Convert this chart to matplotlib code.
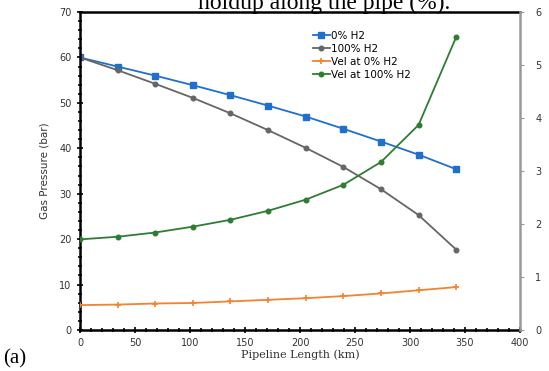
import numpy as np
import matplotlib.pyplot as plt
from matplotlib.ticker import MultipleLocator

# pipeline positions (km)
length_km = [0, 34.2, 68.4, 102.6, 136.8, 171, 205.2, 239.4, 273.6, 307.8, 342]

# gas pressure (bar)
p_0h2 = [60, 58, 56, 53.9, 51.7, 49.4, 47, 44.3, 41.5, 38.6, 35.4]
p_100h2 = [60, 57.2, 54.2, 51.1, 47.7, 44, 40.1, 35.9, 31, 25.3, 17.7]

# velocity (right axis)
v_0h2 = [0.47, 0.48, 0.50, 0.51, 0.54, 0.57, 0.60, 0.64, 0.69, 0.75, 0.81]
v_100h2 = [1.71, 1.76, 1.84, 1.95, 2.08, 2.25, 2.46, 2.74, 3.17, 3.87, 5.53]

fig = plt.figure(figsize=(5.49, 3.71), dpi=100)
ax = fig.add_axes([0.1457, 0.1105, 0.8015, 0.857])
ax2 = ax.twinx()

l1, = ax.plot(length_km, p_0h2, color='#1f6fcf', marker='s', markersize=3.8, lw=1.3, label='0% H2')
l2, = ax.plot(length_km, p_100h2, color='#666666', marker='o', markersize=3.3, lw=1.3, label='100% H2')
l3, = ax2.plot(length_km, v_0h2, color='#f58231', marker='+', markersize=4, mew=1.2, lw=1.3, label='Vel at 0% H2')
l4, = ax2.plot(length_km, v_100h2, color='#2e7d32', marker='o', markersize=3.3, lw=1.3, label='Vel at 100% H2')

ax.set_xlim(0, 400)
ax.set_ylim(0, 70)
ax2.set_ylim(0, 6)

ax.xaxis.set_major_locator(MultipleLocator(50))
ax.xaxis.set_minor_locator(MultipleLocator(10))
ax.yaxis.set_major_locator(MultipleLocator(10))
ax.yaxis.set_minor_locator(MultipleLocator(2))
ax2.yaxis.set_major_locator(MultipleLocator(1))

ax.tick_params(axis='both', which='major', direction='inout', length=5, width=1.2, labelsize=7, colors='black', labelcolor='#333333')
ax.tick_params(axis='both', which='minor', direction='inout', length=3.5, width=1.2)
ax2.tick_params(axis='y', which='major', direction='out', length=3, width=0.8, pad=8,
                colors='#999999', labelcolor='#333333', labelsize=7)

for s in ['left', 'bottom', 'top']:
    ax.spines[s].set_linewidth(1.8)
ax2.spines['left'].set_visible(False)
ax2.spines['bottom'].set_visible(False)
ax2.spines['top'].set_visible(False)
ax.spines['right'].set_visible(False)
ax2.spines['right'].set_color('#999999')
ax2.spines['right'].set_linewidth(1.8)

ax.set_xlabel('Pipeline Length (km)', family='DejaVu Serif', fontsize=8, color='#333333', labelpad=1)
ax.set_ylabel('Gas Pressure (bar)', fontsize=7.5, color='#333333', labelpad=7)

ax.legend(handles=[l1, l2, l3, l4], loc='upper left', bbox_to_anchor=(0.52, 0.955),
          frameon=False, fontsize=7.5, handlelength=1.6, handletextpad=0.1,
          labelspacing=0.3, borderaxespad=0)

fig.text(0.005, 0.02, '(a)', family='Liberation Serif', fontsize=15)
# caption from the page above, cut off at the top edge as in the source
fig.text(0.59, 0.99, 'holdup along the pipe (%).', family='Liberation Serif', fontsize=17, ha='center', va='center')

plt.savefig('out.png', dpi=100)
